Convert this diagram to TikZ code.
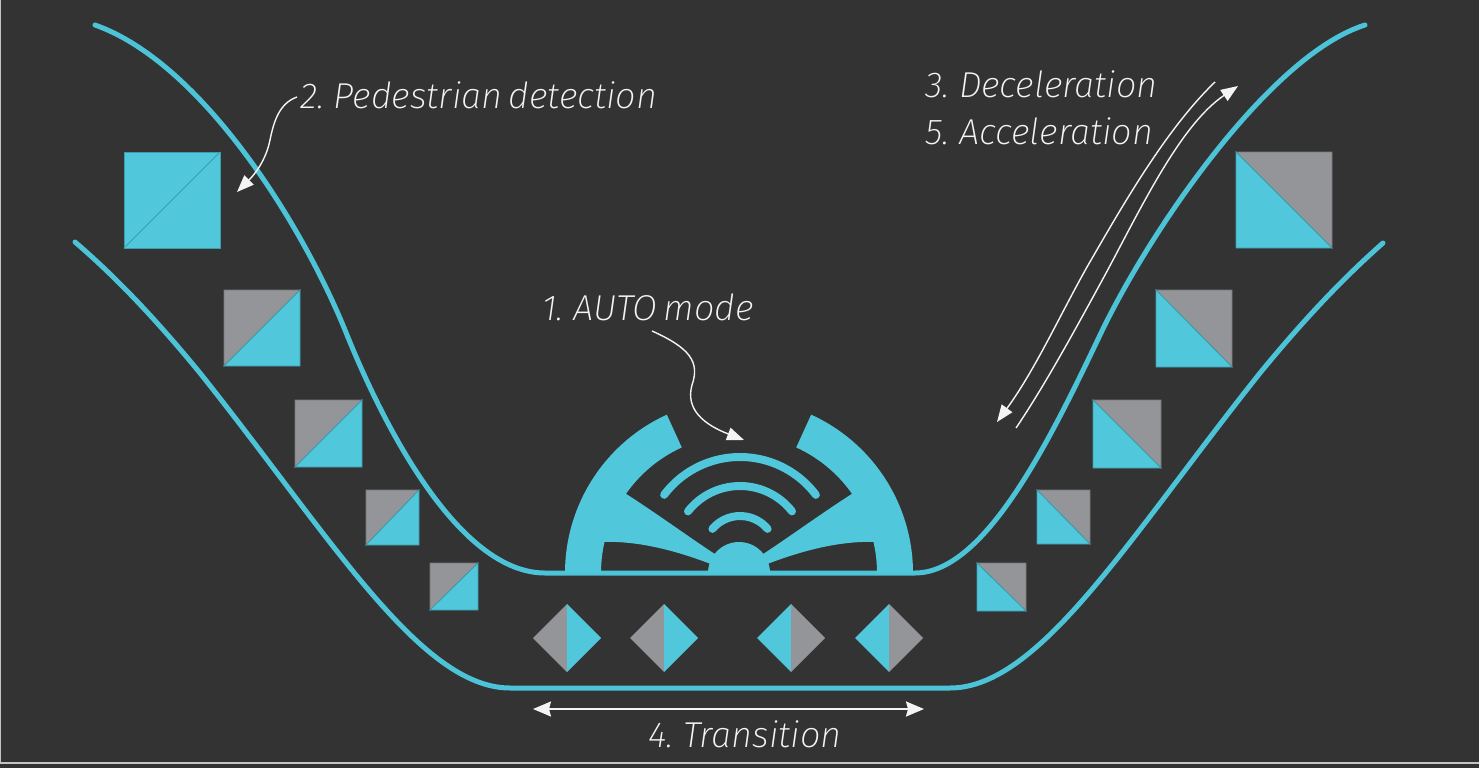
\documentclass[tikz,border=0pt]{standalone}
\usepackage{fontspec}
\setmainfont{Fira Sans ExtraLight}[ItalicFont={Fira Sans ExtraLight Italic}]
\usetikzlibrary{arrows.meta,calc}

\definecolor{bg}{HTML}{333333}
\definecolor{road}{HTML}{4CC3D6}
\definecolor{tile}{HTML}{50C7DA}
\definecolor{tileedge}{HTML}{3A9EAF}
\definecolor{stone}{HTML}{939598}
\definecolor{stoneedge}{HTML}{76777A}
\definecolor{ink}{HTML}{F4F4F4}
\definecolor{frame}{HTML}{C4C4C4}

% caption type: light italic with tight word spacing
\newcommand{\captionface}{\fontsize{36}{40}\selectfont\itshape\spaceskip=0.17em\relax}

% square split along the rising diagonal: grey upper-left, cyan lower-right
\newcommand{\tilerise}[4]{%
  \filldraw[fill=stone, draw=stoneedge, line width=0.8pt] (#1,#2) -- (#3,#2) -- (#1,#4) -- cycle;
  \filldraw[fill=tile, draw=tileedge, line width=0.8pt] (#3,#2) -- (#3,#4) -- (#1,#4) -- cycle;}
% square split along the falling diagonal: grey upper-right, cyan lower-left
\newcommand{\tilefall}[4]{%
  \filldraw[fill=stone, draw=stoneedge, line width=0.8pt] (#1,#2) -- (#3,#2) -- (#3,#4) -- cycle;
  \filldraw[fill=tile, draw=tileedge, line width=0.8pt] (#1,#2) -- (#3,#4) -- (#1,#4) -- cycle;}
% diamond on the lower lane: grey left half, cyan right half
\newcommand{\gemgc}[1]{%
  \fill[stone] (#1-34,638) -- (#1,604) -- (#1,672) -- cycle;
  \fill[tile] (#1,604) -- (#1+34,638) -- (#1,672) -- cycle;}
% diamond on the lower lane: cyan left half, grey right half
\newcommand{\gemcg}[1]{%
  \fill[tile] (#1-34,638) -- (#1,604) -- (#1,672) -- cycle;
  \fill[stone] (#1,604) -- (#1+34,638) -- (#1,672) -- cycle;}

\begin{document}
\begin{tikzpicture}[x=1pt,y=-1pt,
  roadline/.style={road, line width=5pt, line cap=round},
  caption/.style={text=ink, font=\captionface, inner sep=0pt, anchor=base west},
  pointer/.style={ink, line width=1.4pt, -{Triangle[length=17pt,width=13pt]}},
  wave/.style={tile, line width=8pt, line cap=round}]

\fill[bg] (0,0) rectangle (1479,768);
\useasboundingbox (0,0) rectangle (1479,768);
\draw[frame, line width=1pt] (0.5,0) -- (0.5,763);
\draw[frame, line width=2pt] (0,763) -- (1479,763);

% the two edges of the road
\draw[roadline] (95,25) .. controls (200,62) and (300,220) .. (345,330)
  .. controls (385,430) and (460,573) .. (545,573) -- (915,573)
  .. controls (985,573) and (1050,440) .. (1100,335)
  .. controls (1150,230) and (1270,55) .. (1365,25);
\draw[roadline] (75,242) .. controls (110,272) and (150,312) .. (200,373)
  .. controls (330,536) and (420,688) .. (510,688) -- (950,688)
  .. controls (1040,688) and (1130,536) .. (1260,373)
  .. controls (1310,312) and (1350,272) .. (1383,243);

% squares on the descending side
\filldraw[fill=tile, draw=tileedge, line width=0.8pt] (124,152) rectangle (220,248);
\draw[tileedge, line width=0.8pt] (124,248) -- (220,152);
\tilerise{224}{290}{300}{366}
\tilerise{295}{400}{362}{467}
\tilerise{366}{490}{419}{545}
\tilerise{430}{563}{478}{610}

% squares on the ascending side
\tilefall{1236}{152}{1332}{248}
\tilefall{1156}{290}{1232}{367}
\tilefall{1093}{400}{1161}{468}
\tilefall{1037}{490}{1090}{544}
\tilefall{977}{563}{1026}{611}

% diamonds on the flat stretch
\gemgc{567}
\gemgc{664}
\gemcg{791}
\gemcg{889}

% steering wheel with signal waves
\fill[tile] (565,573) arc[start angle=180, end angle=245.5, radius=174]
  -- ($(739,573)+(245.5:138)$) arc[start angle=245.5, end angle=180, radius=138] -- cycle;
\fill[tile] ($(739,573)+(294.5:174)$) arc[start angle=294.5, end angle=360, radius=174]
  -- (877,573) arc[start angle=360, end angle=294.5, radius=138] -- cycle;
\fill[tile] (620,490) .. controls (655,512) and (690,538) .. (718,556) -- (716,566)
  .. controls (680,552) and (640,540) .. (598,542) -- cycle;
\fill[tile] (858,490) .. controls (823,512) and (788,538) .. (760,556) -- (762,566)
  .. controls (798,552) and (838,540) .. (880,542) -- cycle;
\fill[tile] (770,573) arc[start angle=0, end angle=-180, radius=31] -- cycle;
\draw[wave] (740,552) ++(-143:95) arc[start angle=-143, end angle=-37, radius=95];
\draw[wave] (740,552) ++(-142:66) arc[start angle=-142, end angle=-38, radius=66];
\draw[wave] (740,552) ++(-140:36) arc[start angle=-140, end angle=-40, radius=36];

% captions
\node[caption] (ped) at (300,108) {2. Pedestrian detection};
\node[caption] (auto) at (542,320) {1. AUTO mode};
\node[caption] (dec) at (925,97) {3. Deceleration};
\node[caption] (acc) at (925,144) {5. Acceleration};
\node[caption] (trans) at (648,747) {4. Transition};

% pointers
\coordinate (pedfrom) at (297,97);
\coordinate (pedto) at (237,192);
\draw[pointer] (pedfrom) .. controls (280,103) and (274,120) .. (270,140)
  .. controls (266,160) and (255,174) .. (pedto);

\coordinate (autofrom) at (652,331);
\coordinate (autoto) at (744,440);
\draw[pointer] (autofrom) .. controls (690,348) and (700,362) .. (692,385)
  .. controls (685,410) and (705,425) .. (autoto);

\coordinate (decfrom) at (1215,82);
\coordinate (decto) at (997,422);
\draw[pointer] (decfrom) .. controls (1165,130) and (1120,210) .. (1087,267)
  .. controls (1060,315) and (1035,370) .. (decto);

\coordinate (accfrom) at (1016,428);
\coordinate (accto) at (1238,86);
\draw[pointer] (accfrom) .. controls (1045,385) and (1075,330) .. (1105,275)
  .. controls (1140,210) and (1180,125) .. (accto);

\coordinate (transl) at (533,709);
\coordinate (transr) at (924,709);
\draw[ink, line width=1.8pt, {Stealth[length=18pt,width=15pt,inset=2pt]}-{Stealth[length=18pt,width=15pt,inset=2pt]}] (transl) -- (transr);
\end{tikzpicture}
\end{document}
